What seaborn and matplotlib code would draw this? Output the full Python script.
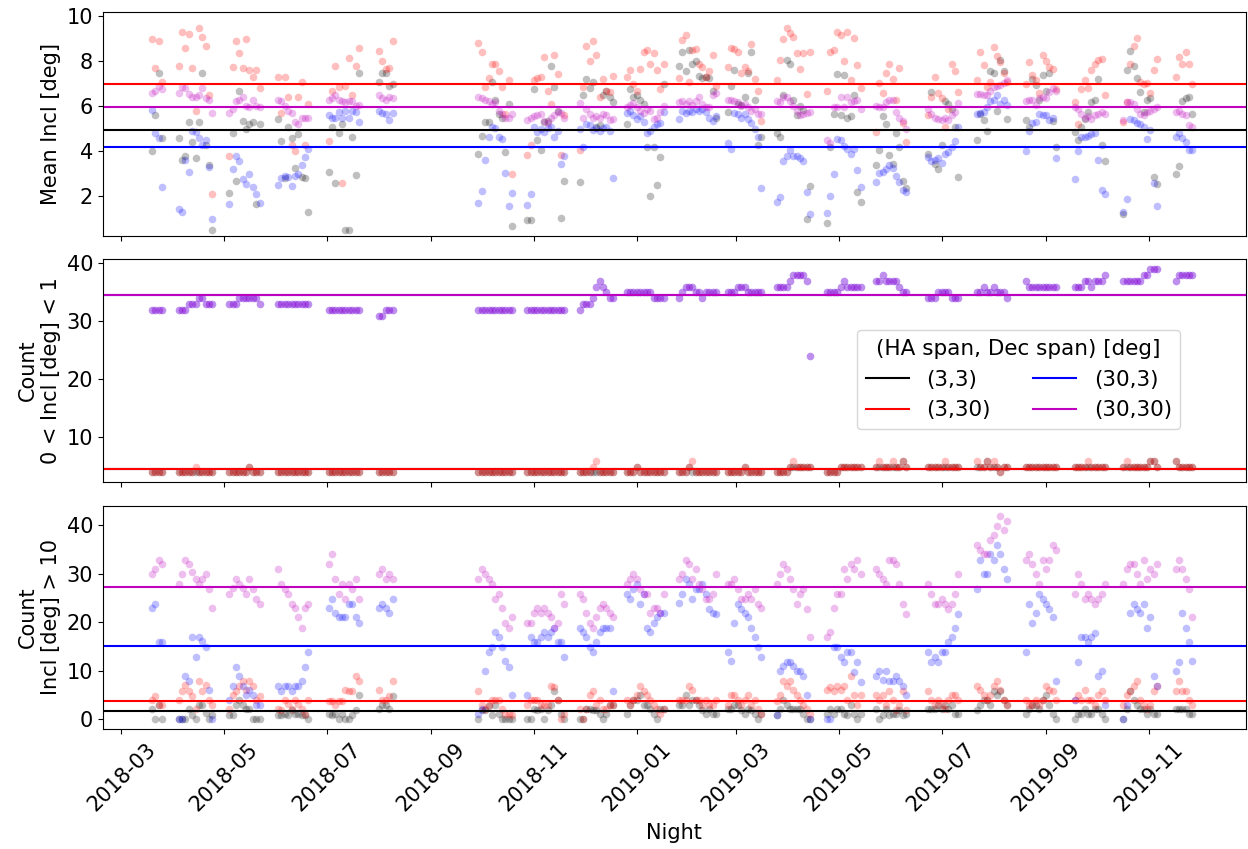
import pandas as pd
import seaborn as sns
import matplotlib
matplotlib.use("Agg")
import matplotlib.pyplot as plt
import matplotlib.dates as mdates

# observing runs (first night); values below are every second night of each run
run_starts = ["2018-03-19", "2018-04-04", "2018-05-04", "2018-06-02", "2018-07-02",
              "2018-08-01", "2018-09-29", "2018-10-28", "2018-11-28", "2018-12-26",
              "2019-01-26", "2019-02-24", "2019-03-25", "2019-04-24", "2019-05-23",
              "2019-06-23", "2019-07-22", "2019-08-20", "2019-09-18", "2019-10-17",
              "2019-11-17"]

labels = ["(3,3)", "(3,30)", "(30,3)", "(30,30)"]
colors = ["k", "r", "b", "m"]

# ---- panel 1: mean inclination [deg]
incl_33 = [
    [4.0, 5.6, 7.5, 4.6],
    [4.6, 3.6, 3.8, 5.3, 4.4, 3.7, 5.3, 7.5, 4.3, 3.4, 0.5],
    [2.15, 4.8, 2.7, 6.7, 5.35, 5.0, 5.2, 5.3, 1.65, 5.2],
    [5.45, 4.45, 2.8, 5.1, 4.6, 3.25, 4.75, 2.85, 2.8, 1.3],
    [3.1, 5.1, 2.6, 4.8, 5.2, 0.5, 0.5, 4.65, 2.95, 7.5],
    [7.1, 7.5, 7.5, 6.9, 7.0],
    [3.9, 4.7, 5.3, 5.3, 7.1, 6.3, 5.65, 5.5, 3.95, 6.1, 0.7],
    [0.95, 0.95, 6.75, 4.5, 4.05, 5.3, 5.35, 7.8, 6.85, 5.8, 1.05, 2.7],
    [2.65, 6.5, 7.2, 6.8, 7.1, 5.1, 5.15, 6.5, 6.7, 6.4, 6.2],
    [5.2, 6.75, 6.4, 6.5, 6.3, 6.1, 4.2, 2.0, 4.2, 2.5, 3.75, 7.0],
    [7.8, 8.4, 7.55, 8.5, 7.9, 8.0, 7.35, 7.25, 7.3, 7.25, 6.7, 5.5],
    [5.75, 6.9, 7.6, 6.1, 6.05, 6.4, 7.5, 8.4, 6.3, 4.3, 4.65],
    [4.8, 4.65, 6.5, 8.05, 7.9, 6.3, 5.6, 6.0, 5.85, 1.0, 2.45],
    [0.8, 4.2, 5.65, 7.45, 5.6, 7.4, 5.5, 5.55, 6.5, 2.2, 1.75],
    [3.4, 4.05, 5.55, 5.2, 3.85, 3.45, 4.8, 4.2, 2.7, 2.35],
    [3.9, 6.65, 3.45, 3.2, 4.3, 6.25, 6.1, 5.9, 5.1, 2.85],
    [4.5, 5.65, 5.4, 4.9, 7.55, 7.5, 5.8, 8.05, 7.55, 5.45],
    [5.4, 5.1, 7.2, 6.95, 6.3, 7.4, 6.7, 7.5, 5.35, 4.2],
    [4.85, 4.5, 5.1, 5.45, 5.75, 6.2, 6.3, 7.2, 4.3, 3.55],
    [1.2, 7.6, 8.45, 7.8, 7.25, 6.65, 5.75, 6.3, 6.35, 2.85, 2.55],
    [3.0, 3.35, 6.25, 6.35, 6.4, 5.65],
]
incl_330 = [
    [9.0, 7.7, 8.9, 7.1],
    [7.8, 9.3, 8.6, 9.2, 7.7, 5.8, 9.5, 9.1, 8.7, 6.5, 2.1],
    [3.8, 7.75, 8.9, 8.35, 7.7, 9.0, 7.6, 7.3, 7.6, 6.8],
    [7.3, 5.7, 7.3, 6.4, 4.3, 4.0, 6.4, 7.1, 4.3, 6.1],
    [4.45, 6.7, 7.8, 6.85, 2.6, 6.9, 8.15, 6.5, 7.8, 8.6],
    [8.45, 8.0, 7.65, 7.7, 8.9],
    [8.8, 8.4, 6.85, 7.25, 7.9, 7.9, 7.55, 6.85, 5.65, 7.15, 3.0],
    [3.85, 4.3, 7.15, 7.25, 7.3, 8.2, 6.7, 6.1, 8.3, 7.45, 3.85, 5.6],
    [4.05, 6.85, 8.7, 8.0, 8.9, 8.3, 6.4, 7.2, 6.7, 6.65, 7.35],
    [7.3, 7.6, 7.0, 6.7, 7.65, 8.4, 8.5, 7.9, 8.35, 7.6, 6.75, 7.9],
    [7.25, 8.95, 9.15, 7.1, 8.5, 8.55, 7.9, 7.75, 7.3, 7.55, 8.3, 6.9],
    [7.75, 8.6, 8.55, 8.4, 7.5, 7.75, 7.55, 8.75, 7.2, 6.7, 5.35],
    [7.15, 8.05, 9.0, 9.5, 9.25, 9.1, 8.35, 7.65, 8.35, 6.55, 8.4],
    [6.7, 8.4, 8.5, 9.3, 9.15, 8.0, 9.3, 7.15, 9.05, 7.85, 6.8],
    [4.85, 7.05, 6.6, 7.5, 7.9, 7.2, 6.3, 7.7, 5.25, 4.4],
    [5.6, 6.4, 7.3, 6.6, 6.35, 5.1, 5.9, 7.9, 7.55, 6.65],
    [7.15, 8.4, 7.85, 6.85, 7.1, 8.65, 8.25, 7.95, 7.5, 7.1],
    [7.0, 7.95, 7.4, 7.15, 6.6, 8.3, 8.0, 7.75, 7.65, 6.75],
    [6.2, 5.2, 6.75, 7.15, 6.8, 7.6, 7.9, 8.05, 8.1, 6.5],
    [5.3, 6.2, 7.9, 8.7, 9.05, 7.1, 7.0, 7.05, 6.6, 7.6, 8.1],
    [7.3, 8.2, 7.9, 8.4, 7.9, 7.0],
]
incl_303 = [
    [5.85, 4.8, 4.6, 2.4],
    [1.45, 1.3, 3.6, 3.1, 4.9, 4.85, 4.6, 4.3, 4.5, 3.3, 1.0],
    [1.65, 3.2, 3.8, 3.55, 2.75, 2.55, 3.0, 2.4, 2.1, 1.7],
    [2.5, 2.8, 2.9, 2.85, 2.45, 2.9, 3.0, 3.4, 3.75, 4.1],
    [5.6, 5.5, 5.5, 5.75, 5.5, 5.8, 5.5, 5.8, 5.75, 5.3],
    [5.8, 5.7, 5.65, 5.4, 5.7],
    [1.7, 2.25, 3.6, 4.65, 5.1, 5.05, 4.65, 4.55, 3.05, 1.55, 2.15],
    [1.6, 2.1, 5.1, 4.85, 5.0, 4.85, 5.05, 5.1, 4.65, 4.9, 3.45, 3.8],
    [5.0, 4.2, 5.2, 5.15, 4.95, 5.05, 4.9, 5.05, 5.1, 4.9, 2.8],
    [5.7, 5.8, 5.6, 5.45, 5.55, 5.3, 4.8, 4.9, 5.1, 5.2, 5.25, 5.75],
    [5.45, 5.8, 5.7, 5.8, 5.75, 5.9, 5.8, 5.9, 5.75, 5.5, 5.35, 5.55],
    [4.35, 4.1, 5.7, 5.65, 5.5, 5.65, 5.45, 5.25, 5.0, 4.65, 2.35],
    [1.75, 1.95, 3.55, 3.8, 4.05, 3.8, 3.8, 3.7, 3.55, 2.2, 1.2],
    [1.25, 2.0, 3.0, 4.55, 4.5, 4.25, 4.1, 3.9, 4.1, 3.15, 2.4],
    [2.65, 3.05, 3.1, 3.2, 3.4, 3.25, 2.9, 2.65, 2.3, 2.2],
    [3.75, 3.55, 3.6, 3.7, 3.5, 3.9, 3.95, 4.2, 4.45, 5.1],
    [5.65, 5.7, 5.75, 5.95, 6.25, 6.3, 6.5, 6.1, 6.3, 6.05],
    [4.0, 4.9, 5.25, 5.3, 5.65, 5.6, 5.6, 5.4, 5.5, 3.7],
    [2.75, 4.0, 4.65, 4.65, 4.7, 4.75, 4.8, 3.6, 2.3, 2.1],
    [1.3, 1.9, 5.45, 5.4, 5.25, 5.2, 5.1, 4.55, 4.95, 2.6, 1.55],
    [4.65, 4.8, 4.6, 4.4, 4.05, 4.05],
]
incl_3030 = [
    [6.6, 6.7, 6.9, 6.75],
    [6.6, 6.85, 6.8, 6.55, 6.4, 6.4, 6.5, 6.8, 6.35, 6.3, 5.7],
    [5.7, 5.9, 6.25, 6.3, 6.4, 6.0, 5.95, 6.3, 6.0, 5.95],
    [6.3, 6.25, 6.0, 5.8, 5.7, 5.3, 5.2, 5.5, 5.5, 5.5],
    [6.3, 6.35, 6.5, 6.3, 6.25, 6.2, 6.25, 6.25, 6.0, 6.05],
    [6.5, 6.35, 6.3, 6.4, 6.35],
    [6.4, 6.35, 6.3, 6.25, 6.1, 6.2, 5.8, 5.65, 5.5, 5.5, 5.65],
    [5.4, 5.5, 5.55, 5.6, 5.65, 5.35, 5.25, 5.5, 5.6, 5.75, 5.7, 5.5],
    [6.15, 5.5, 5.9, 5.65, 5.5, 5.55, 5.5, 5.65, 5.6, 5.4, 5.45],
    [5.95, 6.05, 6.15, 5.95, 5.8, 5.7, 5.9, 5.8, 5.45, 5.5, 5.75, 6.0],
    [6.2, 6.25, 6.1, 6.25, 6.05, 6.25, 6.4, 6.1, 5.95, 5.95, 6.5, 6.6],
    [6.3, 6.3, 6.25, 6.2, 6.0, 6.1, 5.95, 5.8, 5.9, 5.65, 5.65],
    [6.25, 6.2, 6.4, 6.4, 6.25, 6.0, 5.8, 5.6, 5.65, 5.7, 5.75],
    [4.5, 4.35, 5.95, 5.95, 6.4, 5.95, 6.4, 6.2, 6.25, 6.3, 5.9],
    [6.0, 5.95, 5.95, 6.2, 6.3, 6.3, 5.75, 5.5, 5.35, 5.0],
    [5.9, 5.65, 5.5, 5.45, 5.4, 5.5, 5.4, 5.6, 5.75, 6.15],
    [6.55, 6.55, 6.5, 6.5, 6.7, 6.85, 6.9, 6.95, 7.05, 7.15],
    [6.25, 6.3, 6.3, 6.05, 6.35, 6.4, 6.35, 6.65, 6.8, 6.7],
    [5.95, 5.9, 5.65, 5.5, 5.55, 5.45, 5.6, 5.65, 5.75, 5.65],
    [5.4, 6.2, 6.2, 6.1, 5.9, 5.65, 5.6, 5.75, 5.8, 5.9, 5.95],
    [5.75, 5.8, 5.65, 5.6, 5.15, 5.1],
]

# ---- panel 2: count with 0 < incl < 1
low_33 = [
    [4, 4, 4, 4],
    [4, 4, 4, 4, 4, 4, 4, 4, 4, 4, 4],
    [4, 4, 4, 4, 4, 4, 5, 4, 4, 4],
    [4, 4, 4, 4, 4, 4, 4, 4, 4, 4],
    [4, 4, 4, 4, 4, 4, 4, 4, 4, 4],
    [4, 4, 4, 4, 4],
    [4, 4, 4, 4, 4, 4, 4, 4, 4, 4, 4],
    [4, 4, 4, 4, 4, 4, 4, 4, 4, 4, 4, 4],
    [4, 4, 4, 4, 4, 4, 4, 4, 4, 4, 4],
    [4, 4, 4, 5, 4, 4, 4, 4, 4, 4, 4, 4],
    [4, 4, 4, 5, 4, 4, 4, 4, 4, 4, 4, 4],
    [4, 4, 4, 4, 4, 5, 4, 4, 4, 4, 4],
    [4, 4, 4, 4, 5, 5, 5, 5, 5, 5, 5],
    [4, 4, 4, 4, 5, 5, 5, 5, 5, 5, 5],
    [5, 5, 5, 5, 5, 5, 5, 5, 6, 5],
    [5, 5, 5, 5, 5, 5, 5, 5, 5, 5],
    [5, 5, 5, 6, 5, 5, 5, 4, 5, 5],
    [5, 5, 5, 5, 5, 5, 5, 5, 5, 5],
    [5, 5, 5, 5, 5, 5, 5, 5, 5, 5],
    [5, 5, 5, 5, 5, 5, 5, 5, 6, 6, 5],
    [6, 5, 5, 5, 5, 5],
]
low_330 = [
    [4, 4, 4, 4],
    [4, 4, 4, 4, 4, 5, 4, 4, 4, 4, 4],
    [4, 4, 4, 4, 4, 4, 5, 4, 4, 4],
    [4, 4, 4, 4, 4, 4, 4, 4, 4, 4],
    [4, 4, 4, 4, 4, 4, 4, 4, 4, 4],
    [4, 4, 4, 4, 4],
    [4, 4, 4, 4, 4, 4, 4, 4, 4, 4, 4],
    [4, 4, 4, 4, 4, 4, 4, 4, 4, 4, 4, 4],
    [4, 4, 4, 4, 5, 6, 4, 4, 4, 4, 4],
    [4, 4, 4, 5, 4, 4, 4, 4, 4, 4, 4, 4],
    [4, 4, 4, 5, 6, 4, 4, 4, 4, 4, 4, 4],
    [4, 4, 4, 4, 4, 5, 4, 4, 4, 4, 4],
    [4, 4, 4, 4, 5, 6, 5, 5, 5, 5, 5],
    [4, 4, 4, 4, 5, 5, 5, 5, 5, 5, 5],
    [5, 6, 5, 5, 5, 6, 5, 5, 6, 5],
    [5, 5, 5, 5, 5, 6, 5, 5, 5, 5],
    [6, 5, 5, 6, 5, 6, 5, 4, 5, 5],
    [5, 5, 5, 5, 5, 5, 5, 5, 5, 5],
    [5, 5, 5, 5, 6, 5, 5, 5, 5, 5],
    [5, 6, 5, 5, 5, 5, 5, 5, 6, 6, 5],
    [6, 5, 5, 5, 5, 5],
]
low_3030 = [
    [32, 32, 32, 32],
    [32, 32, 32, 33, 33, 33, 34, 34, 33, 33, 33],
    [33, 33, 33, 34, 34, 34, 34, 34, 34, 33],
    [33, 33, 33, 33, 33, 33, 33, 33, 33, 33],
    [32, 32, 32, 32, 32, 32, 32, 32, 32, 32],
    [31, 31, 32, 32, 32],
    [32, 32, 32, 32, 32, 32, 32, 32, 32, 32, 32],
    [32, 32, 32, 32, 32, 32, 32, 32, 32, 32, 32, 32],
    [32, 33, 33, 33, 34, 36, 37, 36, 35, 34, 34],
    [35, 35, 35, 35, 35, 35, 35, 35, 34, 34, 34, 34],
    [34, 35, 36, 36, 36, 35, 35, 34, 35, 35, 35, 35],
    [35, 35, 35, 36, 36, 36, 35, 35, 35, 35, 35],
    [36, 36, 36, 36, 37, 38, 38, 38, 38, 37, 24],
    [35, 35, 35, 35, 36, 37, 36, 36, 36, 36, 36],
    [37, 37, 38, 37, 37, 37, 37, 36, 35, 35],
    [34, 34, 34, 35, 35, 35, 35, 34, 34, 34],
    [35, 35, 36, 35, 35, 36, 35, 35, 35, 34],
    [37, 36, 36, 36, 36, 36, 36, 36, 36, 36],
    [36, 36, 36, 37, 37, 36, 37, 37, 37, 38],
    [37, 37, 37, 37, 37, 37, 38, 38, 39, 39, 39],
    [37, 38, 38, 38, 38, 38],
]
# (30,3) sits exactly under (30,30) in this panel
low_303 = [list(r) for r in low_3030]

# ---- panel 3: count with incl > 10
high_33 = [
    [2.0, 0.0, 3.0, 0.0],
    [0, 0, 0, 2.0, 0.8, 0, 2.9, 3.0, 1.2, 0, 0.8],
    [0.8, 0.8, 2.9, 3.9, 2.9, 2.0, 2.0, 0, 0, 0],
    [0.8, 0.8, 1.0, 0.8, 1.9, 1.0, 1.0, 0.8, 0.8, 0.0],
    [1.0, 0.8, 1.0, 0, 1.0, 0, 0, 0.8, 1.9, 4.9],
    [2.0, 3.0, 3.0, 2.0, 4.8],
    [0, 1.9, 1.9, 2.7, 0.8, 2.9, 1.0, 0, 0, 0, 0],
    [0, 0, 2.0, 1.9, 2.0, 0, 1.9, 2.9, 5.8, 3.9, 1.0, 0],
    [0, 0, 2.0, 2.0, 1.9, 1.9, 1.0, 0, 1.0, 2.9, 2.9],
    [1.0, 2.9, 3.9, 3.9, 4.9, 3.0, 3.0, 2.0, 1.0, 0, 2.0, 2.0],
    [2.9, 3.0, 4.9, 3.0, 3.9, 3.9, 2.9, 1.9, 1.0, 2.0, 1.0, 1.0],
    [2.0, 2.0, 2.9, 2.9, 1.9, 1.0, 2.0, 1.9, 1.0, 0, 1.0],
    [0.8, 2.0, 3.9, 2.9, 2.0, 2.0, 2.0, 2.0, 1.0, 0, 0],
    [1.0, 2.0, 1.0, 2.0, 2.0, 1.0, 0.8, 2.9, 1.0, 0, 1.0],
    [2.0, 0, 0.8, 2.0, 0.8, 1.0, 1.0, 1.9, 0.8, 1.0],
    [2.0, 2.0, 2.0, 2.9, 2.0, 2.9, 2.0, 2.9, 1.0, 1.0],
    [1.9, 2.9, 3.9, 3.9, 2.9, 5.8, 4.9, 5.8, 3.9, 2.9],
    [1.0, 2.0, 2.9, 2.9, 2.0, 3.9, 4.9, 2.9, 1.0, 0],
    [0, 1.0, 1.0, 2.0, 1.0, 1.0, 2.0, 2.0, 1.0, 0],
    [0, 2.0, 5.8, 3.9, 2.9, 2.0, 2.0, 1.0, 2.0, 1.0, 1.0],
    [2.0, 2.0, 2.0, 2.0, 1.0, 1.0],
]
high_330 = [
    [3.9, 4.8, 3.0, 3.0],
    [3.9, 5.8, 7.0, 5.8, 4.7, 2.0, 7.8, 5.8, 7.0, 3.9, 3.0],
    [2.0, 4.9, 5.8, 6.9, 7.8, 6.0, 7.8, 6.9, 3.9, 4.8],
    [2.0, 1.9, 3.9, 3.1, 2.0, 3.9, 3.1, 2.0, 1.0, 3.9],
    [3.8, 3.8, 2.9, 3.8, 3.8, 6.0, 5.8, 5.8, 8.9, 7.8],
    [6.0, 3.9, 3.9, 4.8, 7.8],
    [5.8, 2.9, 2.0, 2.9, 3.9, 3.9, 3.9, 2.0, 1.0, 1.0, 0.8],
    [2.9, 3.9, 3.9, 3.9, 2.9, 2.9, 2.9, 6.9, 6.7, 3.9, 0, 1.0],
    [2.0, 0, 2.0, 4.9, 5.8, 3.0, 3.9, 2.0, 2.0, 2.9, 2.9],
    [3.9, 2.9, 3.9, 4.9, 6.9, 5.8, 4.9, 3.9, 2.9, 2.0, 1.0, 2.0],
    [3.9, 3.9, 3.9, 6.9, 6.0, 3.9, 3.9, 2.9, 3.9, 2.9, 2.9, 3.9],
    [2.9, 4.9, 4.9, 3.9, 2.9, 3.9, 4.9, 2.9, 3.9, 2.0, 1.0],
    [3.8, 4.9, 7.8, 6.9, 7.8, 6.0, 4.9, 3.9, 2.9, 2.0, 1.0],
    [6.0, 6.7, 5.8, 6.9, 6.0, 6.9, 3.9, 8.9, 4.9, 2.9, 4.9],
    [4.9, 3.9, 4.9, 2.9, 5.8, 3.9, 1.9, 2.9, 5.8, 1.9],
    [5.8, 3.9, 2.9, 3.9, 2.9, 2.0, 3.9, 4.9, 4.9, 3.9],
    [6.9, 6.0, 4.9, 3.9, 4.9, 6.9, 7.8, 6.0, 3.9, 2.9],
    [3.9, 2.9, 2.9, 3.9, 2.9, 3.9, 6.9, 6.0, 5.8, 3.9],
    [3.9, 4.9, 3.9, 6.0, 3.9, 3.9, 2.9, 4.9, 5.8, 3.9],
    [2.9, 4.9, 5.8, 6.9, 7.8, 3.9, 2.9, 2.0, 2.9, 5.8, 6.9],
    [5.8, 7.8, 5.8, 5.8, 3.9, 2.9],
]
high_303 = [
    [23.0, 23.8, 16.0, 16.0],
    [0, 0, 8.9, 7.8, 17.0, 12.9, 17.0, 16.1, 14.9, 6.0, 0.0],
    [3.9, 6.9, 10.8, 8.9, 6.9, 4.9, 6.0, 4.9, 2.9, 2.9],
    [6.9, 5.8, 6.9, 6.9, 5.8, 6.9, 6.9, 7.8, 10.8, 13.9],
    [23.0, 24.9, 21.9, 21.0, 21.0, 21.0, 23.8, 23.8, 21.0, 19.9],
    [23.0, 23.8, 23.0, 22.0, 24.9],
    [1.0, 2.0, 9.9, 13.9, 14.9, 17.9, 17.0, 14.9, 12.0, 10.8, 4.9],
    [4.9, 17.0, 16.0, 16.0, 17.0, 17.9, 17.0, 17.9, 18.8, 16.0, 16.0, 12.9],
    [18.8, 17.9, 17.0, 14.9, 13.9, 16.0, 17.9, 18.8, 18.8, 18.8, 5.8],
    [25.9, 24.9, 26.9, 28.0, 23.8, 25.9, 18.8, 17.9, 19.9, 21.0, 21.9, 21.9],
    [24.0, 25.9, 28.9, 28.0, 24.9, 26.9, 26.9, 28.0, 25.9, 22.8, 21.9, 21.8],
    [13.9, 12.0, 19.9, 23.8, 22.8, 21.9, 21.0, 18.8, 17.0, 14.9, 12.9],
    [0.8, 9.9, 11.0, 11.8, 11.8, 11.0, 9.9, 9.9, 8.9, 4.9, 0.0],
    [0, 0, 14.9, 14.9, 12.9, 11.8, 13.9, 13.9, 9.8, 11.8, 7.7],
    [8.9, 9.9, 8.0, 9.9, 7.8, 7.8, 8.9, 7.8, 6.9, 4.9],
    [13.9, 11.8, 12.9, 11.8, 13.9, 13.9, 16.0, 17.0, 18.8, 21.8],
    [26.9, 32.9, 29.9, 29.9, 34.0, 32.9, 36.0, 34.0, 30.9, 28.9],
    [13.9, 23.8, 19.9, 21.9, 25.9, 24.9, 23.8, 22.8, 21.0, 7.8],
    [3.9, 11.8, 17.0, 17.0, 16.0, 17.0, 17.8, 8.9, 9.9, 2.9],
    [0, 2.9, 21.9, 23.8, 22.8, 21.9, 23.8, 18.8, 21.0, 8.9, 6.9],
    [9.9, 11.8, 21.9, 18.8, 16.0, 12.0],
]
high_3030 = [
    [29.9, 30.9, 32.9, 32.0],
    [28.0, 30.0, 32.9, 32.0, 30.4, 29.0, 28.0, 29.0, 29.9, 26.9, 23.0],
    [25.9, 27.0, 28.9, 28.0, 27.0, 25.9, 28.9, 26.9, 24.9, 23.8],
    [30.9, 28.0, 26.9, 25.9, 23.8, 23.0, 21.0, 18.8, 23.0, 23.8],
    [32.0, 34.0, 28.9, 25.9, 28.0, 24.9, 28.0, 26.9, 28.9, 24.9],
    [29.9, 30.9, 28.9, 29.9, 28.9],
    [28.9, 30.9, 29.9, 28.9, 28.0, 24.9, 25.9, 23.0, 19.9, 18.8, 21.0],
    [19.9, 19.9, 21.9, 23.0, 21.9, 23.0, 21.9, 21.0, 18.8, 19.9, 25.9, 23.8],
    [25.9, 24.9, 21.9, 19.9, 18.8, 21.0, 23.0, 23.8, 23.0, 21.9, 21.0],
    [28.0, 28.9, 29.9, 28.9, 26.9, 25.9, 25.9, 21.9, 23.0, 23.0, 21.9, 25.9],
    [28.9, 29.9, 32.9, 32.0, 28.9, 30.9, 28.0, 26.9, 24.9, 24.9, 25.9, 29.9],
    [28.0, 28.0, 28.9, 26.9, 24.9, 24.9, 25.9, 24.9, 26.9, 23.8, 23.0],
    [28.0, 29.9, 32.0, 30.9, 28.9, 26.9, 23.8, 25.9, 26.9, 22.8, 17.0],
    [17.0, 17.9, 23.0, 25.9, 25.9, 30.9, 28.9, 32.0, 30.9, 32.9, 30.0],
    [30.9, 29.9, 28.9, 28.0, 32.9, 32.9, 32.0, 28.0, 23.8, 21.8],
    [28.0, 25.9, 23.8, 23.8, 24.9, 23.8, 22.8, 23.8, 25.9, 29.9],
    [35.9, 35.0, 34.0, 34.0, 37.0, 38.0, 39.8, 41.9, 39.0, 40.9],
    [32.9, 34.0, 32.0, 29.9, 28.0, 32.9, 30.9, 32.9, 36.0, 35.0],
    [25.9, 29.9, 28.0, 24.9, 25.9, 24.9, 23.8, 24.9, 25.9, 28.0],
    [28.0, 30.9, 32.0, 32.0, 29.9, 28.0, 32.9, 28.9, 30.9, 29.9, 32.0],
    [30.9, 32.9, 30.9, 28.9, 26.9, 21.0],
]

# averages drawn as horizontal lines (order as labels)
mean_incl = [4.95, 7.0, 4.2, 5.95]
mean_low = [4.5, 4.5, 34.6, 34.6]
mean_high = [1.6, 3.8, 15.0, 27.2]


def expand(per_run):
    nights, vals = [], []
    for start, vs in zip(run_starts, per_run):
        nights.extend(pd.date_range(start, periods=len(vs), freq="2D"))
        vals.extend(vs)
    return pd.DataFrame({"night": nights, "value": vals})


panels = [
    ([incl_33, incl_330, incl_303, incl_3030], mean_incl, "Mean Incl [deg]"),
    ([low_33, low_330, low_303, low_3030], mean_low, "Count\n0 < Incl [deg] < 1"),
    ([high_33, high_330, high_303, high_3030], mean_high, "Count\nIncl [deg] > 10"),
]

plt.rcParams["font.size"] = 15
fig, axes = plt.subplots(3, 1, figsize=(12.48, 8.49), dpi=100, sharex=True)
fig.subplots_adjust(left=0.0825, right=0.998, top=0.986, bottom=0.141, hspace=0.103)

for ax, (series, means, ylabel) in zip(axes, panels):
    for vals, c in zip(series, colors):
        df = expand(vals)
        sns.scatterplot(data=df, x="night", y="value", color=c, alpha=0.25,
                        s=30, linewidth=0, ax=ax)
    for m, c, lab in zip(means, colors, labels):
        ax.axhline(m, color=c, lw=1.5, label=lab)
    ax.set_ylabel(ylabel)
    ax.set_xlabel("")
    ax.tick_params(labelsize=15)

axes[0].set_ylim(0.25, 10.2)
axes[0].set_yticks([2, 4, 6, 8, 10])
axes[1].set_ylim(2.25, 40.8)
axes[1].set_yticks([10, 20, 30, 40])
axes[2].set_ylim(-2.1, 44.1)
axes[2].set_yticks([0, 10, 20, 30, 40])

axes[1].legend(title="(HA span, Dec span) [deg]", ncol=2, loc="center right",
               bbox_to_anchor=(0.943, 0.46), borderaxespad=0,
               fontsize=15.5, title_fontsize=15.5)

ax = axes[2]
ax.set_xlim(pd.Timestamp("2018-02-18"), pd.Timestamp("2019-12-28 12:00"))
ax.xaxis.set_major_locator(mdates.MonthLocator(bymonth=[1, 3, 5, 7, 9, 11]))
ax.xaxis.set_major_formatter(mdates.DateFormatter("%Y-%m"))
plt.setp(ax.get_xticklabels(), rotation=45)
ax.set_xlabel("Night", labelpad=6)

fig.savefig("out.png", dpi=100)
